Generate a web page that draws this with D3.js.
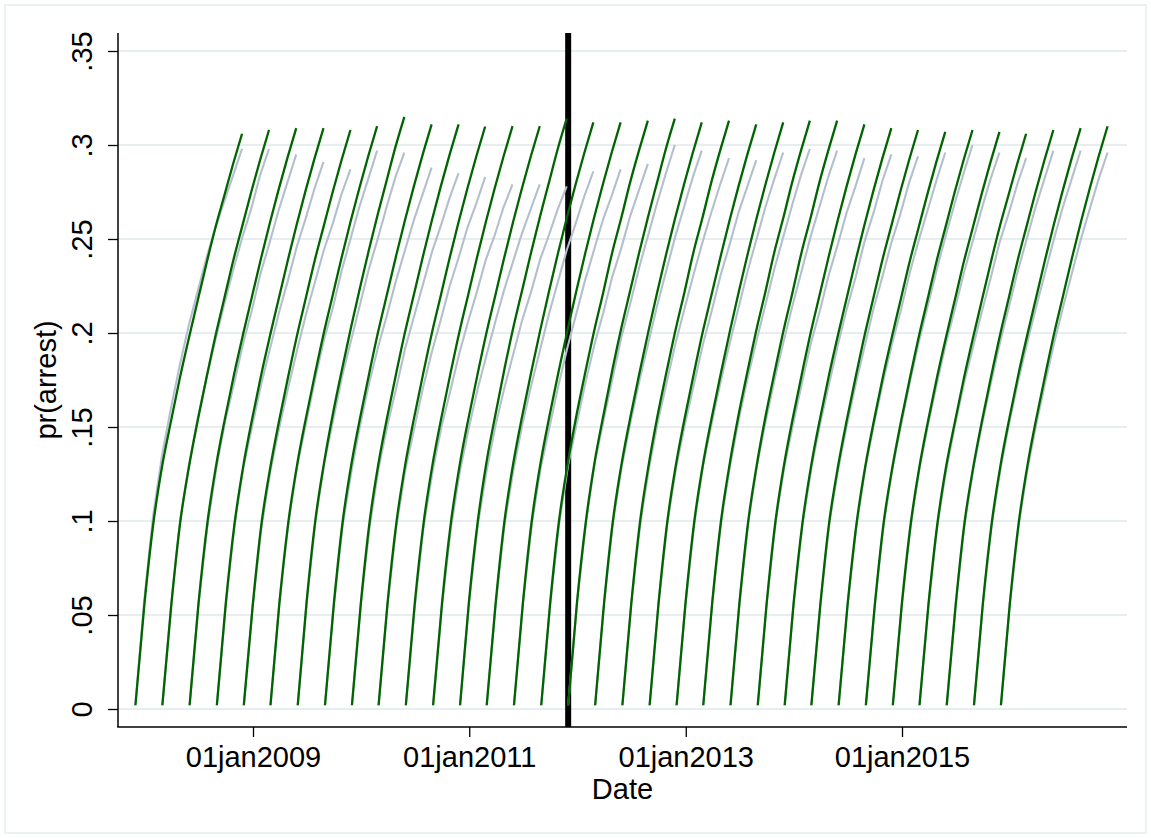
<!DOCTYPE html>
<html>
<head>
<meta charset="utf-8">
<script src="https://cdn.jsdelivr.net/npm/d3@7"></script>
<style>
  html, body { margin: 0; padding: 0; background: #ffffff; }
  svg { display: block; font-family: "Liberation Sans", Arial, Helvetica, sans-serif; }
</style>
</head>
<body>
<svg id="chart" width="1151" height="838"></svg>
<script>
// Quarterly cohorts: start date of each cohort
const cohortStarts = [
  "2007-12-01","2008-03-01","2008-06-01","2008-09-01",
  "2008-12-01","2009-03-01","2009-06-01","2009-09-01",
  "2009-12-01","2010-03-01","2010-06-01","2010-09-01",
  "2010-12-01","2011-03-01","2011-06-01","2011-09-01",
  "2011-12-01","2012-03-01","2012-06-01","2012-09-01",
  "2012-12-01","2013-03-01","2013-06-01","2013-09-01",
  "2013-12-01","2014-03-01","2014-06-01","2014-09-01",
  "2014-12-01","2015-03-01","2015-06-01","2015-09-01",
  "2015-12-01"
];

// Days since cohort start at which pr(arrest) is recorded
const dayOffsets = [0, 30, 60, 90, 120, 150, 180, 210, 240, 270, 300, 330, 360];

// Fitted cumulative pr(arrest), one row per cohort
const fittedArrest = [
  [.002,.055,.098,.129,.153,.176,.197,.217,.237,.256,.273,.290,.306],
  [.002,.055,.099,.129,.154,.177,.199,.219,.239,.257,.275,.292,.308],
  [.002,.056,.099,.130,.155,.178,.199,.219,.239,.258,.276,.293,.309],
  [.002,.056,.099,.130,.155,.178,.199,.219,.239,.258,.276,.293,.309],
  [.002,.055,.099,.129,.154,.177,.199,.219,.239,.257,.275,.292,.308],
  [.002,.056,.099,.130,.155,.178,.200,.220,.240,.259,.277,.294,.310],
  [.002,.057,.101,.132,.158,.181,.203,.224,.244,.263,.281,.299,.315],
  [.002,.056,.100,.131,.156,.179,.201,.221,.241,.260,.278,.295,.311],
  [.002,.056,.100,.131,.156,.179,.201,.221,.241,.260,.278,.295,.311],
  [.002,.056,.099,.130,.155,.178,.200,.220,.240,.259,.277,.294,.310],
  [.002,.056,.099,.130,.155,.178,.200,.220,.240,.259,.277,.294,.310],
  [.002,.056,.099,.130,.155,.178,.200,.220,.240,.259,.277,.294,.310],
  [.002,.057,.100,.132,.157,.181,.203,.223,.243,.262,.280,.298,.314],
  [.002,.056,.100,.131,.156,.179,.201,.222,.242,.261,.279,.296,.312],
  [.002,.056,.100,.131,.156,.179,.201,.222,.242,.261,.279,.296,.312],
  [.002,.056,.100,.131,.157,.180,.202,.222,.243,.261,.280,.297,.313],
  [.002,.057,.100,.132,.157,.181,.203,.223,.243,.262,.280,.298,.314],
  [.002,.056,.100,.131,.156,.179,.201,.222,.242,.261,.279,.296,.312],
  [.002,.056,.100,.131,.157,.180,.202,.222,.243,.261,.280,.297,.313],
  [.002,.056,.100,.131,.156,.179,.201,.221,.241,.260,.278,.295,.311],
  [.002,.056,.100,.131,.156,.179,.201,.222,.242,.261,.279,.296,.312],
  [.002,.056,.100,.131,.157,.180,.202,.222,.243,.261,.280,.297,.313],
  [.002,.056,.100,.131,.157,.180,.202,.222,.243,.261,.280,.297,.313],
  [.002,.056,.100,.131,.156,.179,.201,.221,.241,.260,.278,.295,.311],
  [.002,.056,.099,.130,.155,.178,.199,.219,.239,.258,.276,.293,.309],
  [.002,.055,.099,.129,.154,.177,.199,.219,.239,.257,.275,.292,.308],
  [.002,.055,.098,.129,.154,.177,.198,.218,.238,.256,.274,.291,.307],
  [.002,.055,.099,.129,.154,.177,.199,.219,.239,.257,.275,.292,.308],
  [.002,.055,.098,.129,.154,.177,.198,.218,.238,.256,.274,.291,.307],
  [.002,.055,.098,.129,.153,.176,.197,.217,.237,.256,.273,.290,.306],
  [.002,.055,.099,.129,.154,.177,.199,.219,.239,.257,.275,.292,.308],
  [.002,.056,.099,.130,.155,.178,.199,.219,.239,.258,.276,.293,.309],
  [.002,.056,.099,.130,.155,.178,.200,.220,.240,.259,.277,.294,.310]
];

// Observed cumulative pr(arrest), one row per cohort
const observedArrest = [
  [.002,.058,.103,.135,.160,.183,.204,.222,.240,.256,.270,.284,.298],
  [.002,.056,.100,.130,.155,.177,.197,.216,.234,.251,.266,.284,.298],
  [.002,.056,.097,.128,.153,.173,.194,.212,.232,.248,.265,.280,.295],
  [.002,.055,.098,.129,.151,.173,.192,.211,.228,.246,.261,.277,.291],
  [.002,.055,.097,.127,.150,.171,.191,.210,.227,.244,.258,.274,.287],
  [.002,.057,.098,.129,.152,.175,.196,.213,.233,.250,.267,.282,.297],
  [.002,.056,.100,.131,.154,.177,.196,.215,.234,.250,.267,.283,.296],
  [.002,.055,.098,.127,.152,.174,.193,.210,.228,.244,.260,.274,.288],
  [.002,.056,.097,.128,.151,.171,.192,.209,.226,.243,.257,.272,.285],
  [.002,.055,.097,.127,.149,.171,.190,.207,.225,.240,.256,.269,.283],
  [.002,.054,.097,.126,.150,.169,.189,.206,.222,.239,.252,.267,.279],
  [.002,.055,.096,.126,.149,.170,.188,.206,.223,.238,.253,.266,.279],
  [.002,.056,.098,.127,.151,.171,.189,.207,.222,.239,.252,.266,.278],
  [.002,.055,.098,.127,.151,.172,.191,.210,.227,.244,.258,.273,.286],
  [.002,.056,.098,.128,.150,.172,.192,.210,.228,.244,.260,.273,.287],
  [.002,.055,.098,.129,.152,.174,.194,.211,.230,.245,.262,.276,.290],
  [.002,.057,.099,.131,.154,.176,.198,.216,.235,.252,.269,.285,.300],
  [.002,.056,.099,.129,.153,.175,.195,.215,.233,.251,.267,.283,.297],
  [.002,.056,.098,.128,.153,.174,.195,.213,.231,.248,.264,.279,.293],
  [.002,.056,.099,.129,.152,.173,.194,.212,.231,.247,.264,.278,.292],
  [.002,.056,.099,.130,.153,.175,.195,.214,.233,.250,.267,.282,.296],
  [.002,.056,.099,.129,.154,.176,.196,.215,.234,.251,.268,.284,.298],
  [.002,.056,.099,.130,.154,.176,.196,.215,.233,.251,.267,.283,.297],
  [.002,.056,.099,.129,.152,.174,.195,.212,.231,.247,.264,.278,.293],
  [.002,.056,.098,.128,.152,.173,.194,.213,.230,.249,.264,.281,.295],
  [.002,.055,.098,.127,.151,.173,.193,.213,.230,.248,.263,.280,.294],
  [.002,.055,.097,.128,.152,.174,.194,.212,.232,.249,.265,.281,.296],
  [.002,.055,.098,.128,.152,.175,.196,.215,.234,.252,.269,.285,.300],
  [.002,.055,.097,.128,.152,.174,.195,.213,.232,.249,.266,.282,.296],
  [.002,.055,.097,.127,.151,.173,.192,.211,.229,.248,.263,.279,.293],
  [.002,.055,.098,.128,.152,.174,.195,.214,.233,.250,.267,.282,.297],
  [.002,.056,.098,.128,.153,.175,.195,.214,.232,.250,.267,.282,.297],
  [.002,.056,.098,.128,.152,.174,.195,.214,.232,.250,.266,.282,.296]
];

// Axis ticks
const yTickValues = [0, .05, .1, .15, .2, .25, .3, .35];
const yTickLabels = ["0", ".05", ".1", ".15", ".2", ".25", ".3", ".35"];
const xTickDates  = ["2009-01-01", "2011-01-01", "2013-01-01", "2015-01-01"];
const xTickLabels = ["01jan2009", "01jan2011", "01jan2013", "01jan2015"];

// Policy change date marked by the vertical rule
const policyDate = "2011-12-01";

const parse = d3.utcParse("%Y-%m-%d");

const svg = d3.select("#chart");
const W = 1151, H = 838;
const axisLeftX = 118, axisBottomY = 727, axisTopY = 33, axisRightX = 1127;
const fontSize = 29;

// Graph region outline
svg.append("rect")
  .attr("x", 5).attr("y", 5)
  .attr("width", W - 10).attr("height", H - 10)
  .attr("fill", "#ffffff")
  .attr("stroke", "#e6edf0").attr("stroke-width", 1.5);

const x = d3.scaleUtc()
  .domain([parse("2009-01-01"), parse("2015-01-01")])
  .range([253, 902]);

const y = d3.scaleLinear()
  .domain([0, 0.35])
  .range([709, 51]);

// Horizontal grid lines
svg.append("g")
  .selectAll("line")
  .data(yTickValues)
  .join("line")
  .attr("x1", axisLeftX).attr("x2", axisRightX)
  .attr("y1", d => y(d)).attr("y2", d => y(d))
  .attr("stroke", "#e6eef0").attr("stroke-width", 2);

// Vertical rule at the policy date
svg.append("line")
  .attr("x1", x(parse(policyDate))).attr("x2", x(parse(policyDate)))
  .attr("y1", axisTopY).attr("y2", axisBottomY)
  .attr("stroke", "#000000").attr("stroke-width", 6);

// Build point series per cohort
function series(rows) {
  return rows.map((vals, i) => {
    const start = parse(cohortStarts[i]);
    return vals.map((v, j) => ({ date: d3.utcDay.offset(start, dayOffsets[j]), value: v }));
  });
}

const observedLine = d3.line()
  .x(d => x(d.date)).y(d => y(d.value))
  .curve(d3.curveLinear);

const fittedLine = d3.line()
  .x(d => x(d.date)).y(d => y(d.value))
  .curve(d3.curveMonotoneX);

svg.append("g")
  .selectAll("path")
  .data(series(observedArrest))
  .join("path")
  .attr("d", observedLine)
  .attr("fill", "none")
  .attr("stroke", "#b3bfcd")
  .attr("stroke-width", 2.1)
  .attr("stroke-linejoin", "round");

svg.append("g")
  .selectAll("path")
  .data(series(fittedArrest))
  .join("path")
  .attr("d", fittedLine)
  .attr("fill", "none")
  .attr("stroke", "#006400")
  .attr("stroke-width", 2.3)
  .attr("stroke-linejoin", "round");

// Y axis
const yAxis = svg.append("g")
  .attr("transform", `translate(${axisLeftX},0)`)
  .call(d3.axisLeft(y)
    .tickValues(yTickValues)
    .tickSize(10)
    .tickFormat((d, i) => yTickLabels[i]));
yAxis.select(".domain").remove();
yAxis.selectAll(".tick line").attr("stroke", "#000").attr("stroke-width", 1.3);
yAxis.selectAll(".tick text")
  .attr("x", null).attr("dy", null)
  .attr("transform", "translate(-26,0) rotate(-90)")
  .attr("text-anchor", "middle")
  .attr("fill", "#000")
  .style("font-size", fontSize + "px")
  .style("font-family", "'Liberation Sans', Arial, sans-serif");
svg.append("line")
  .attr("x1", axisLeftX).attr("x2", axisLeftX)
  .attr("y1", axisTopY).attr("y2", axisBottomY)
  .attr("stroke", "#000").attr("stroke-width", 1.5);

// X axis
const xAxis = svg.append("g")
  .attr("transform", `translate(0,${axisBottomY})`)
  .call(d3.axisBottom(x)
    .tickValues(xTickDates.map(parse))
    .tickSize(10)
    .tickFormat((d, i) => xTickLabels[i]));
xAxis.select(".domain").remove();
xAxis.selectAll(".tick line").attr("stroke", "#000").attr("stroke-width", 1.3);
xAxis.selectAll(".tick text")
  .attr("y", 19).attr("dy", "0.71em")
  .attr("fill", "#000")
  .style("font-size", fontSize + "px")
  .style("font-family", "'Liberation Sans', Arial, sans-serif");
svg.append("line")
  .attr("x1", axisLeftX - 0.75).attr("x2", axisRightX)
  .attr("y1", axisBottomY).attr("y2", axisBottomY)
  .attr("stroke", "#000").attr("stroke-width", 1.5);

// Axis titles
svg.append("text")
  .attr("x", (axisLeftX + axisRightX) / 2).attr("y", 799)
  .attr("text-anchor", "middle")
  .style("font-size", fontSize + "px")
  .text("Date");

svg.append("text")
  .attr("transform", `translate(56,${(axisTopY + axisBottomY) / 2}) rotate(-90)`)
  .attr("text-anchor", "middle")
  .style("font-size", fontSize + "px")
  .text("pr(arrest)");
</script>
</body>
</html>
